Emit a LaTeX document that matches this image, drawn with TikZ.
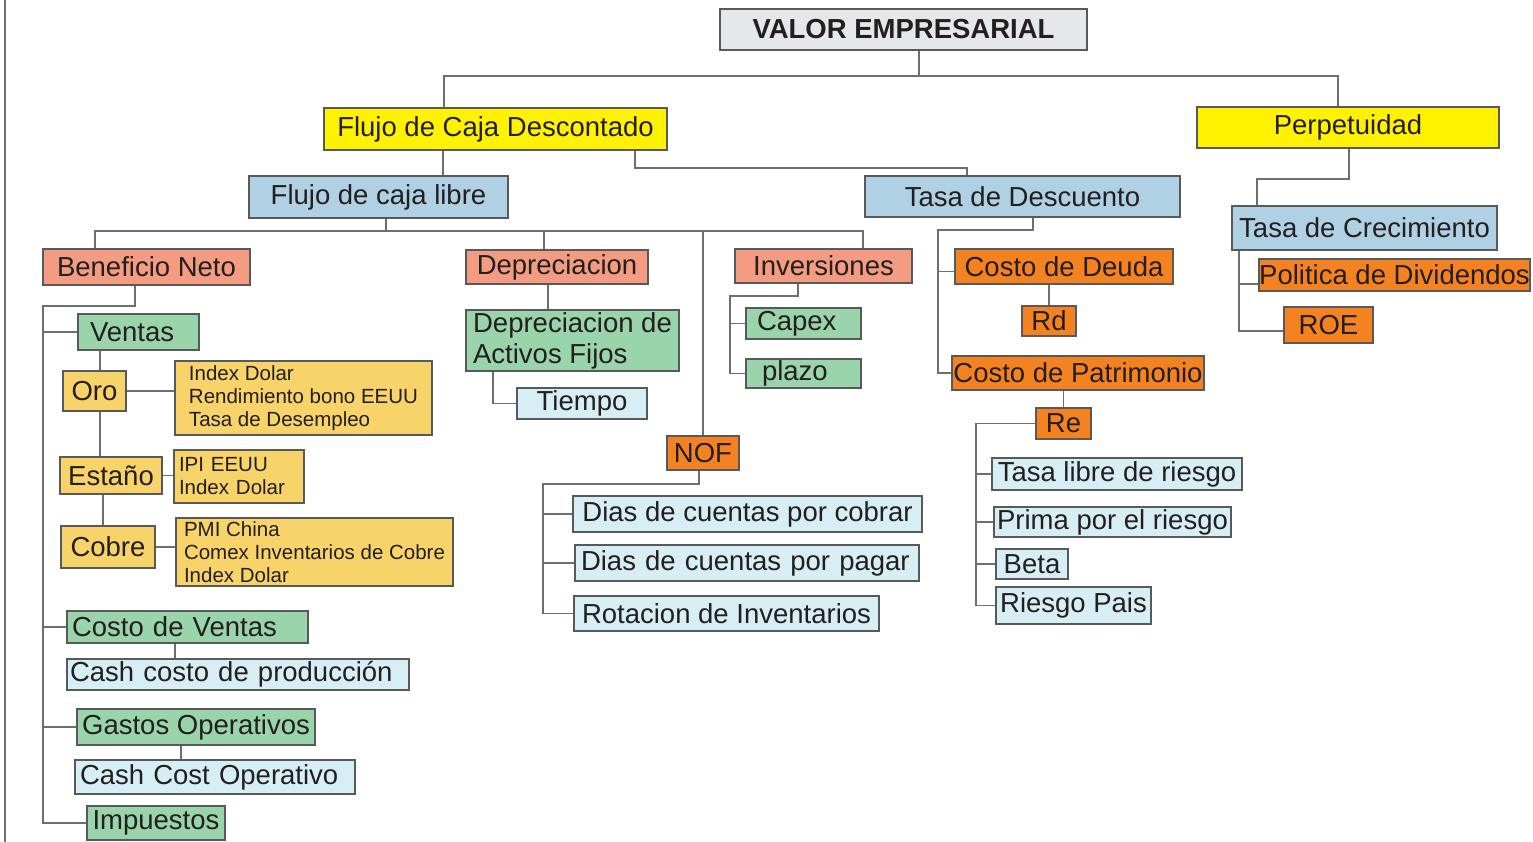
\documentclass[tikz,border=0pt]{standalone}
\usepackage{fontspec}
\setmainfont{Liberation Sans}
\definecolor{grayfill}{HTML}{E6E7E8}
\definecolor{yel}{HTML}{FFF200}
\definecolor{steel}{HTML}{AFD1E3}
\definecolor{salmon}{HTML}{F49C82}
\definecolor{orng}{HTML}{F58220}
\definecolor{grn}{HTML}{99D4AA}
\definecolor{gold}{HTML}{F7D36A}
\definecolor{pale}{HTML}{D7EEF4}
\definecolor{boxline}{HTML}{58595B}
\definecolor{linkgray}{HTML}{6D6E71}
\definecolor{txt}{HTML}{231F20}
\newcommand{\bigtxt}{\fontsize{27.5}{31}\selectfont}
\newcommand{\smalltxt}{\fontsize{20.5}{23}\selectfont}

\begin{document}
\begin{tikzpicture}[x=1pt,y=-1pt,
    box/.style={draw=boxline,line width=1.3pt,inner sep=0pt,text=txt,font=\bigtxt},
    padded/.style 2 args={inner xsep=#1,text width=#2,align=left},
    link/.style={draw=linkgray,line width=1.5pt}]
  \useasboundingbox (0,0) rectangle (1533,842);
  % page edge
  \draw[linkgray,line width=1.2pt] (5,0) -- (5,842);

  % upper levels
  \node[box,fill=grayfill,minimum width=367,minimum height=41,font=\bigtxt\bfseries] (valor) at (903.5,29.5) {VALOR EMPRESARIAL};
  \node[box,fill=yel,minimum width=343,minimum height=42] (fcd) at (495.5,129) {Flujo de Caja Descontado};
  \node[box,fill=yel,minimum width=302,minimum height=41] (perp) at (1348,127.5) {Perpetuidad};
  \node[box,fill=steel,minimum width=259,minimum height=42] (fcl) at (378.5,197) {Flujo de caja libre};
  \node[box,fill=steel,minimum width=315,minimum height=41] (tdd) at (1022.5,196.5) {Tasa de Descuento};
  \node[box,fill=steel,minimum width=265,minimum height=44] (tdc) at (1364.5,228) {Tasa de Crecimiento};
  \node[box,fill=orng,minimum width=271,minimum height=32] (pol) at (1394.5,275) {Politica de Dividendos};
  \node[box,fill=orng,minimum width=89,minimum height=36] (roe) at (1328.5,325) {ROE};

  % flujo de caja libre
  \node[box,fill=salmon,minimum width=207,minimum height=36] (bn) at (146.5,267) {Beneficio Neto};
  \node[box,fill=salmon,minimum width=182,minimum height=34] (dep) at (557,267) {Depreciacion};
  \node[box,fill=salmon,minimum width=177,minimum height=34] (inv) at (823.5,266) {Inversiones};
  \node[box,fill=orng,minimum width=72,minimum height=34] (nof) at (703,453) {NOF};

  \node[box,fill=grn,padded={12}{97},minimum height=36] (ventas) at (138.5,332) {Ventas};
  \node[box,fill=gold,minimum width=63,minimum height=40] (oro) at (94.5,391) {Oro};
  \node[box,fill=gold,minimum width=102,minimum height=37] (estano) at (111,475.5) {Estaño};
  \node[box,fill=gold,minimum width=94,minimum height=42] (cobre) at (108,547) {Cobre};
  \node[box,fill=gold,align=left,minimum width=257,minimum height=74,font=\smalltxt] (orolist) at (303.5,398)
    {Index Dolar\\Rendimiento bono EEUU\\Tasa de Desempleo};
  \node[box,fill=gold,padded={5}{120},minimum height=53,font=\smalltxt] (estlist) at (239,476.5)
    {IPI EEUU\\Index Dolar};
  \node[box,fill=gold,align=left,minimum width=277,minimum height=68,font=\smalltxt] (coblist) at (314.5,552)
    {PMI China\\Comex Inventarios de Cobre\\Index Dolar};
  \node[box,fill=grn,padded={5}{231},minimum height=32] (cventas) at (187.5,627) {Costo de Ventas};
  \node[box,fill=pale,padded={3}{336},minimum height=31] (cashprod) at (238,674.5) {Cash costo de producción};
  \node[box,fill=grn,minimum width=238,minimum height=36] (gastos) at (196,727) {Gastos Operativos};
  \node[box,fill=pale,padded={5}{270},minimum height=34] (cashop) at (215,777) {Cash Cost Operativo};
  \node[box,fill=grn,minimum width=138,minimum height=34] (impuestos) at (156,823) {Impuestos};

  \node[box,fill=grn,align=left,minimum width=213,minimum height=61] (daf) at (572.5,340.5) {Depreciacion de\\Activos Fijos};
  \node[box,fill=pale,minimum width=130,minimum height=31] (tiempo) at (582,403.5) {Tiempo};
  \node[box,fill=grn,padded={11}{93},minimum height=31] (capex) at (803.5,323.5) {Capex};
  \node[box,fill=grn,padded={16}{83},minimum height=29] (plazo) at (803.5,373.5) {plazo};
  \node[box,fill=pale,minimum width=349,minimum height=36] (cobrar) at (747.5,514) {Dias de cuentas por cobrar};
  \node[box,fill=pale,padded={6}{332},minimum height=36] (pagar) at (747,563) {Dias de cuentas por pagar};
  \node[box,fill=pale,minimum width=305,minimum height=35] (rotacion) at (726.5,613.5) {Rotacion de Inventarios};

  % tasa de descuento
  \node[box,fill=orng,minimum width=218,minimum height=35] (cdeuda) at (1064,266.5) {Costo de Deuda};
  \node[box,fill=orng,minimum width=54,minimum height=30] (rd) at (1049,321) {Rd};
  \node[box,fill=orng,minimum width=252,minimum height=34] (cpat) at (1078,373) {Costo de Patrimonio};
  \node[box,fill=orng,minimum width=55,minimum height=31] (re) at (1063.5,423.5) {Re};
  \node[box,fill=pale,minimum width=250,minimum height=32] (tlr) at (1117,474) {Tasa libre de riesgo};
  \node[box,fill=pale,minimum width=237,minimum height=30] (prima) at (1112.5,522) {Prima por el riesgo};
  \node[box,fill=pale,minimum width=72,minimum height=30] (beta) at (1032,564) {Beta};
  \node[box,fill=pale,minimum width=155,minimum height=37] (rpais) at (1073.5,605.5) {Riesgo Pais};

  % rails
  \coordinate (bustop) at (1000,76);
  \coordinate (busfcd) at (800,168);
  \coordinate (busperp) at (1300,179);
  \coordinate (busfcl) at (500,231);
  \coordinate (bustdd) at (938,230);
  \coordinate (businv) at (730,296);
  \coordinate (busnof) at (543,484);
  \coordinate (busbn) at (43,306);
  \coordinate (rebar) at (976,500);

  \draw[link] ([xshift=15.5]valor.south) -- ++(0,26);
  \draw[link] ([xshift=-51.5]fcd.north) |- (bustop) -| ([xshift=-10]perp.north);
  \draw[link] ([xshift=-52.5]fcd.south) -- ([xshift=64.5]fcl.north);
  \draw[link] ([xshift=139.5]fcd.south) |- (busfcd) -| ([xshift=-55.5]tdd.north);
  \draw[link] ([xshift=1]perp.south) |- (busperp) -| ([xshift=-107.5]tdc.north);
  \draw[link] ([xshift=-125.5]tdc.south) |- ([yshift=-6]roe.west);
  \draw[link] ([yshift=-9]pol.west) -- ++(-20,0);

  \draw[link] ([xshift=7.5]fcl.south) -- ++(0,13);
  \draw[link] ([xshift=-51.5]bn.north) |- (busfcl) -| ([xshift=39.5]inv.north);
  \draw[link] ([xshift=-13]dep.north) -- ++(0,-19);
  \draw[link] (nof.north) -- (nof.north |- busfcl);

  \draw[link] ([xshift=-11.5]bn.south) |- (busbn) |- (impuestos.west);
  \foreach \n in {ventas,cventas,gastos}
    \draw[link] (\n.west) -- (\n.west -| busbn);
  \draw[link] ([xshift=-38.5]ventas.south) -- ([xshift=5.5]oro.north);
  \draw[link] ([xshift=5.5]oro.south) -- ([xshift=-11]estano.north);
  \draw[link] ([xshift=-8]estano.south) -- ([xshift=-5]cobre.north);
  \foreach \a/\b in {oro/orolist,estano/estlist,cobre/coblist}
    \draw[link] (\a.east) -- (\a.east -| \b.west);
  \draw[link] ([xshift=-12.5]cventas.south) -- ([xshift=-63]cashprod.north);
  \draw[link] ([xshift=-15]gastos.south) -- ([xshift=-34]cashop.north);

  \draw[link] ([xshift=-9]dep.south) -- ([xshift=-24.5]daf.north);
  \draw[link] ([xshift=-79.5]daf.south) |- (tiempo.west);
  \draw[link] ([xshift=-25.5]inv.south) |- (businv) |- (plazo.west);
  \draw[link] (capex.west) -- (capex.west -| businv);
  \draw[link] ([xshift=-4]nof.south) |- (busnof) |- (rotacion.west);
  \foreach \n in {cobrar,pagar}
    \draw[link] (\n.west) -- (\n.west -| busnof);

  \draw[link] ([xshift=10.5]tdd.south) |- (bustdd) |- (cpat.west);
  \draw[link] ([yshift=-5]cdeuda.west) -- ++(-17,0);
  \draw[link] (rd.north) -- (rd.north |- cdeuda.south);
  \draw[link] (re.north) -- (re.north |- cpat.south);
  \draw[link] (re.west) -| (rpais.west -| rebar) -- (rpais.west);
  \foreach \n in {tlr,prima,beta}
    \draw[link] (\n.west) -- (\n.west -| rebar);
\end{tikzpicture}
\end{document}
